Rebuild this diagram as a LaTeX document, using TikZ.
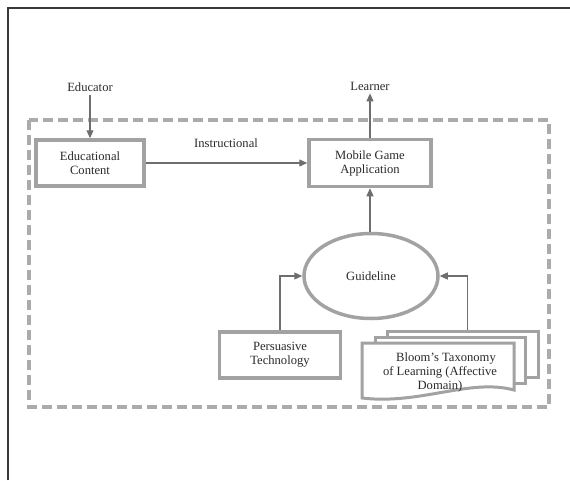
\documentclass[tikz,border=0pt]{standalone}
\usepackage{fontspec}
\setmainfont{Liberation Serif}
\usetikzlibrary{shapes.geometric,arrows.meta,calc}
\definecolor{framegray}{HTML}{3A3A3A}
\definecolor{boxgray}{HTML}{A2A2A2}
\definecolor{dashgray}{HTML}{ABABAB}
\definecolor{linegray}{HTML}{6E6E6E}
\definecolor{txt}{HTML}{2A2A2A}
\tikzset{
  every node/.style={font=\fontsize{12.6}{14}\selectfont, text=txt, align=center},
  procbox/.style={draw=boxgray, line width=3.5pt, rectangle, fill=white, inner sep=0pt},
  sheet/.style={draw=boxgray, line width=3pt, fill=white},
  flow/.style={draw=linegray, line width=1.2pt, -{Triangle[length=8pt,width=7pt]}},
  plain/.style={inner sep=0pt}
}
\begin{document}
\begin{tikzpicture}[x=1pt,y=-1pt]
\useasboundingbox (0,0) rectangle (570,480);
% page frame (top and left rules)
\draw[framegray, line width=2pt] (7.5,480) -- (7.5,7.5) -- (570,7.5);

% system boundary
\draw[dashgray, line width=3.5pt, dash pattern=on 10pt off 5pt]
  (29,120) rectangle (549,407);

% actors
\node[plain] (educator) at (90,87) {Educator};
\node[plain] (learner) at (370,86) {Learner};

% processes
\node[procbox, minimum width=108pt, minimum height=46pt] (content) at (90,163)
  {Educational\\Content};
\node[procbox, minimum width=122pt, minimum height=47pt] (app) at (370,163)
  {Mobile Game\\Application};
\node[draw=boxgray, line width=3.5pt, ellipse, minimum width=134pt, minimum height=85pt,
  inner sep=0pt] (guide) at (371,276) {Guideline};
\node[procbox, minimum width=121pt, minimum height=46pt] (persuasive) at (280,355)
  {Persuasive\\Technology};

% multi-document stack
\node[sheet, rectangle, minimum width=151pt, minimum height=46pt, inner sep=0pt]
  (bloomback) at (462.5,354) {};
\node[sheet, rectangle, minimum width=150pt, minimum height=46pt, inner sep=0pt]
  (bloommid) at (450,360) {};
\draw[sheet] (362,343) -- (514,343) -- (514,390)
  .. controls (470,378) and (420,405) .. (362,398) -- cycle;
\node[plain] (bloom) at (440,372) {\hspace*{12pt}Bloom’s Taxonomy\\of Learning (Affective\\Domain)};

% connectors
\draw[flow] ($(educator.south)+(0,3)$) -- (educator.south |- content.north);
\draw[flow] (app.north) -- (app.north |- {$(learner.south)+(0,3)$});
\draw[flow] (content.east) -- (app.west);
\node[plain] (instr) at (226,143) {Instructional};
\draw[flow] (app.south |- guide.north) -- (app.south);
\draw[flow] (persuasive.north) |- (guide.west);
\draw[flow] ($(bloomback.north west)!0.53!(bloomback.north east)$) |- (guide.east);
\end{tikzpicture}
\end{document}
